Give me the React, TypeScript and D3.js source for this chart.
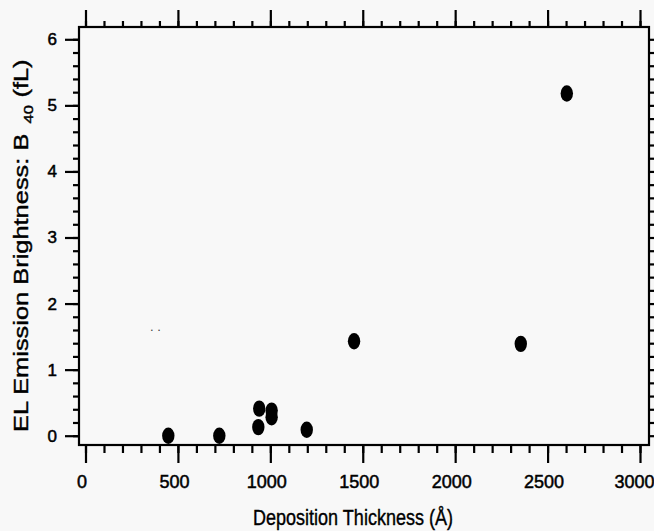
import { useEffect, useRef } from "react";
import * as d3 from "d3";

// values
const thickness = [448, 724, 935, 940, 1007, 1007, 1197, 1453, 2355, 2604];
const brightness = [0.0, 0.0, 0.13, 0.41, 0.38, 0.28, 0.09, 1.43, 1.39, 5.18];

const xTicks = [0, 500, 1000, 1500, 2000, 2500, 3000];
const yTicks = [0, 1, 2, 3, 4, 5, 6];
const xMinor = d3.range(0, 3001, 100);
const yMinor = d3.range(0, 31).map((i) => i * 0.2);

const xTitle = "Deposition Thickness (Å)";
const yTitleMain = "EL Emission Brightness:  B";
const yTitleSub = "40";
const yTitleUnit = "(fL)";

const W = 654;
const H = 531;

const App = () => {
    const ref = useRef<SVGSVGElement | null>(null);

    useEffect(() => {
        const svg = d3.select(ref.current);
        svg.selectAll("*").remove();

        const frame = { left: 79, right: 649, top: 27, bottom: 445 };
        const font = "'Liberation Sans', Arial, sans-serif";

        const x = d3.scaleLinear().domain([0, 3000]).range([85.5, 640]);
        const y = d3.scaleLinear().domain([0, 6]).range([435.7, 39.3]);

        svg.append("rect")
            .attr("width", W)
            .attr("height", H)
            .attr("fill", "#f8f8f8");

        // frame
        svg.append("rect")
            .attr("x", frame.left)
            .attr("y", frame.top)
            .attr("width", frame.right - frame.left)
            .attr("height", frame.bottom - frame.top)
            .attr("fill", "none")
            .attr("stroke", "#000")
            .attr("stroke-width", 2.2);

        const styleAxis = (g: any) => {
            g.select(".domain").remove();
            g.selectAll("line").attr("stroke", "#000").attr("stroke-width", 2.2);
            g.selectAll("text")
                .attr("fill", "#000")
                .attr("stroke", "#000")
                .attr("stroke-width", 0.5)
                .style("font-family", font);
        };

        // bottom axis: minor then major ticks
        svg.append("g")
            .attr("transform", `translate(0, ${frame.bottom})`)
            .call(d3.axisBottom(x).tickValues(xMinor).tickSize(8).tickFormat(() => ""))
            .call(styleAxis);
        svg.append("g")
            .attr("transform", `translate(0, ${frame.bottom})`)
            .call(d3.axisBottom(x).tickValues(xTicks).tickSize(18).tickPadding(12).tickFormat(d3.format("d")))
            .call(styleAxis)
            .selectAll("text")
            .attr("dx", (d: any) => (d === 3000 ? -6 : -4))
            .style("font-size", "18px");

        // top axis
        svg.append("g")
            .attr("transform", `translate(0, ${frame.top})`)
            .call(d3.axisTop(x).tickValues(xMinor).tickSize(6).tickFormat(() => ""))
            .call(styleAxis);
        svg.append("g")
            .attr("transform", `translate(0, ${frame.top})`)
            .call(d3.axisTop(x).tickValues(xTicks).tickSize(17).tickFormat(() => ""))
            .call(styleAxis);

        // left axis
        svg.append("g")
            .attr("transform", `translate(${frame.left}, 0)`)
            .call(d3.axisLeft(y).tickValues(yMinor).tickSize(6).tickFormat(() => ""))
            .call(styleAxis);
        svg.append("g")
            .attr("transform", `translate(${frame.left}, 0)`)
            .call(d3.axisLeft(y).tickValues(yTicks).tickSize(14).tickPadding(8).tickFormat(d3.format("d")))
            .call(styleAxis)
            .selectAll("text")
            .style("font-size", "17px");

        // right axis
        svg.append("g")
            .attr("transform", `translate(${frame.right}, 0)`)
            .call(d3.axisRight(y).tickValues(yMinor).tickSize(5).tickFormat(() => ""))
            .call(styleAxis);

        // points
        svg.selectAll(".pt")
            .data(thickness)
            .enter()
            .append("ellipse")
            .attr("cx", (d) => x(d))
            .attr("cy", (_, i) => y(brightness[i]))
            .attr("rx", 6.2)
            .attr("ry", 8.2)
            .attr("fill", "#000");

        // stray specks from the scan
        svg.append("text")
            .attr("x", 150)
            .attr("y", 331)
            .attr("fill", "#444")
            .style("font-family", font)
            .style("font-size", "13px")
            .text(".  .");

        // x title
        svg.append("text")
            .attr("transform", "translate(353, 525) scale(0.82, 1)")
            .attr("text-anchor", "middle")
            .attr("fill", "#000")
            .attr("stroke", "#000")
            .attr("stroke-width", 0.4)
            .style("font-family", font)
            .style("font-size", "22px")
            .text(xTitle);

        // y title
        const yt = svg.append("text")
            .attr("transform", "translate(28, 432) rotate(-90) scale(1.27, 1)")
            .attr("fill", "#000")
            .attr("stroke", "#000")
            .attr("stroke-width", 0.4)
            .style("font-family", font)
            .style("font-size", "20px");
        yt.append("tspan").text(yTitleMain);
        yt.append("tspan").attr("dx", 8).attr("dy", 5).style("font-size", "13px").text(yTitleSub);
        yt.append("tspan").attr("dx", 6).attr("dy", -5).text(yTitleUnit);
    }, []);

    return (
        <svg
            ref={ref}
            width={W}
            height={H}
            style={{ position: "absolute", left: 0, top: 0, display: "block" }}
        />
    );
};

export default App;
